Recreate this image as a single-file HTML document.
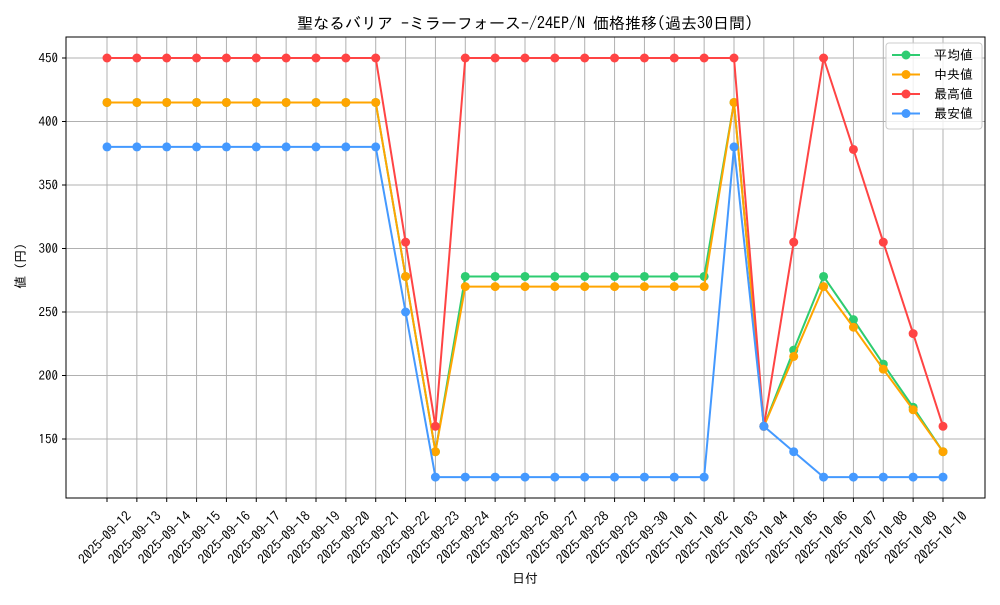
<!DOCTYPE html>
<html><head><meta charset="utf-8"><style>
body{margin:0;background:#fff;}
svg text{font-family:"IPAGothic","Noto Sans CJK JP",sans-serif;fill:#000;}
</style></head><body>
<svg id="chart" width="1000" height="600" xmlns="http://www.w3.org/2000/svg">
<rect width="1000" height="600" fill="#fff"/>
<text x="525" y="29" font-size="16" text-anchor="middle">聖なるバリア -ミラーフォース-/24EP/N 価格推移(過去30日間)</text>
<g id="grid"></g><g id="axes"></g><g id="series"></g>
<rect x="66" y="37" width="919" height="461" fill="none" stroke="#000" stroke-width="1"/>
<text x="525" y="583" font-size="13" text-anchor="middle">日付</text>
<text transform="translate(25,266) rotate(-90)" font-size="13" text-anchor="middle">値 (円)</text>
<g id="legend">
<rect x="886" y="43" width="96" height="86" rx="3" fill="#fff" fill-opacity="0.8" stroke="#ccc"/>
</g>
</svg>
<script>
const dates=["2025-09-12","2025-09-13","2025-09-14","2025-09-15","2025-09-16","2025-09-17","2025-09-18","2025-09-19","2025-09-20","2025-09-21","2025-09-22","2025-09-23","2025-09-24","2025-09-25","2025-09-26","2025-09-27","2025-09-28","2025-09-29","2025-09-30","2025-10-01","2025-10-02","2025-10-03","2025-10-04","2025-10-05","2025-10-06","2025-10-07","2025-10-08","2025-10-09","2025-10-10"];
const meanVals=[415,415,415,415,415,415,415,415,415,415,278,140,278,278,278,278,278,278,278,278,278,415,160,220,278,244,209,175,140];
const medianVals=[415,415,415,415,415,415,415,415,415,415,278,140,270,270,270,270,270,270,270,270,270,415,160,215,270,238,205,173,140];
const maxVals=[450,450,450,450,450,450,450,450,450,450,305,160,450,450,450,450,450,450,450,450,450,450,160,305,450,378,305,233,160];
const minVals=[380,380,380,380,380,380,380,380,380,380,250,120,120,120,120,120,120,120,120,120,120,380,160,140,120,120,120,120,120];
const yTicks=[150,200,250,300,350,400,450];
const seriesNames=["平均値","中央値","最高値","最安値"];
const NS="http://www.w3.org/2000/svg";
const X=i=>107+i*(943-107)/(dates.length-1);
const Y=v=>58+(450-v)*381/300;
function mk(tag,attrs,parent){const e=document.createElementNS(NS,tag);for(const k in attrs)e.setAttribute(k,attrs[k]);parent.appendChild(e);return e;}
const grid=document.getElementById('grid'),axes=document.getElementById('axes'),ser=document.getElementById('series'),leg=document.getElementById('legend');
dates.forEach((d,i)=>{
 const x=X(i);
 const gl=mk('line',{x1:x,x2:x,y1:37,y2:498,stroke:'#b0b0b0','stroke-width':1},grid);
 
 
 const tk=mk('line',{x1:x,x2:x,y1:498,y2:502,stroke:'#000'},axes);
 
 
 const t=mk('text',{transform:`translate(${x+25},${517}) rotate(-45)`,'font-size':13.5,'text-anchor':'end'},axes);
 t.textContent=d;
 
 
});
yTicks.forEach(v=>{
 const y=Y(v);
 const gl=mk('line',{x1:66,x2:985,y1:y,y2:y,stroke:'#b0b0b0','stroke-width':1},grid);
 
 
 const tk=mk('line',{x1:62,x2:66,y1:y,y2:y,stroke:'#000'},axes);
 
 
 const t=mk('text',{x:58,y:y+4.5,'font-size':13,'text-anchor':'end'},axes);
 t.textContent=v;
 
 
});
const all=[meanVals,medianVals,maxVals,minVals];
const colors=["#2ecc71","#ffa500","#ff4444","#4499ff"];
const keys=["mean","median","max","min"];
all.forEach((vals,s)=>{
 const g=mk('g',{},ser);
 
 
 const pl=mk('polyline',{points:vals.map((v,i)=>X(i)+','+Y(v)).join(' '),fill:'none',stroke:colors[s],'stroke-width':2},g);
 
 
 vals.forEach((v,i)=>{
  const c=mk('circle',{cx:X(i),cy:Y(v),r:4.5,fill:colors[s]},g);
  
  
 });
 const ly=55+s*19.5;
 const le=mk('g',{},leg);
 
 
 mk('line',{x1:892,x2:920,y1:ly,y2:ly,stroke:colors[s],'stroke-width':2},le);
 mk('circle',{cx:906,cy:ly,r:4.5,fill:colors[s]},le);
 const t=mk('text',{x:973,y:ly+4.5,'font-size':13,'text-anchor':'end'},le);
 t.textContent=seriesNames[s];
});
</script>
</body></html>
